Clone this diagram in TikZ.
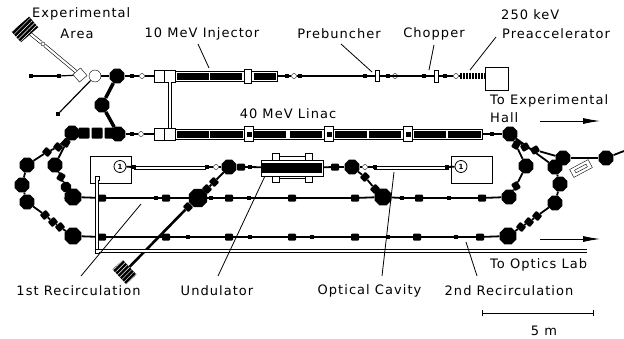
\documentclass[tikz,border=0pt]{standalone}
\usepackage{fontspec}
\setmainfont[LetterSpace=8]{DejaVu Sans}
\usetikzlibrary{shapes.geometric,arrows.meta,patterns.meta}
\begin{document}
\begin{tikzpicture}[x=1pt,y=-1pt,
    dipole/.style={regular polygon,regular polygon sides=8,fill=black,inner sep=0pt,minimum size=16pt},
    bigdipole/.style={dipole,minimum size=20pt},
    quad/.style={rectangle,rounded corners=1pt,fill=black,inner sep=0pt,minimum width=8pt,minimum height=7pt},
    lens/.style={rectangle,fill=black,inner sep=0pt,minimum width=4pt,minimum height=3.5pt},
    ring/.style={circle,draw,fill=white,inner sep=0pt,minimum size=5pt},
    whitebox/.style={rectangle,draw,fill=white,inner sep=0pt},
    blackbar/.style={rectangle,fill=black,inner sep=0pt,minimum height=7pt},
    hatchbox/.style={rectangle,preaction={fill=black},pattern={Lines[angle=45,distance=3.2pt,line width=0.5pt]},pattern color=white,inner sep=0pt},
    hall/.style={rectangle,draw,thick,inner sep=0pt,minimum width=41pt,minimum height=27pt},
    pump/.style={circle,draw,thick,fill=white,inner sep=0pt,minimum size=12pt}]

\useasboundingbox (0,0) rectangle (624,338);

\begin{scope}[every node/.style={whitebox}]

    \node[minimum width=103pt,minimum height=10pt] (inj) at (226,76) {};
    \node[minimum width=308pt,minimum height=10pt] (linac) at (328.5,134) {};
    \node[minimum width=11pt,minimum height=12pt] (injA) at (160,76) {};
    \node[minimum width=11pt,minimum height=12pt] (injB) at (170,76) {};
    \node[minimum width=11pt,minimum height=12pt] (linA) at (160,134) {};
    \node[minimum width=11pt,minimum height=12pt] (linB) at (170,134) {};
    \node[minimum width=23pt,minimum height=23pt] (src) at (496.5,78.5) {};
    \node[minimum width=7pt,minimum height=14pt] (injR) at (248,76) {};
    \node[minimum width=9pt,minimum height=15pt] (linR1) at (249,134) {};
    \node[minimum width=9pt,minimum height=15pt] (linR2) at (329,134) {};
    \node[minimum width=9pt,minimum height=15pt] (linR3) at (408,134) {};
    \node[minimum width=4pt,minimum height=11pt] (preb) at (377,76) {};
    \node[minimum width=4pt,minimum height=12pt] (chop) at (436,76) {};
    \node[minimum width=10pt,minimum height=10pt,rotate=40] (expB) at (80,75) {};
    \node[circle,minimum size=12pt] (expC) at (95,76) {};
    \node[minimum width=21pt,minimum height=9pt,rotate=28] (ext) at (581,168.5) {};
    \node[minimum width=13pt,minimum height=3pt,rotate=28] (extI) at (581,168.5) {};
    \node[minimum size=3.5pt] (capA) at (97,178) {};
    \node[minimum size=3.5pt] (capB) at (97,251) {};
    \node[minimum width=71pt,minimum height=3pt,line width=0.7pt] (cavA) at (170,167.5) {};
    \node[minimum width=74pt,minimum height=3pt,line width=0.7pt] (cavB) at (411,167.5) {};

\end{scope}

\begin{scope}[every node/.style={blackbar}]

    \node[minimum width=32.5pt] at (193,76) {};
    \node[minimum width=32pt] at (226,76) {};
    \node[minimum width=22pt] at (265,76) {};
    \node[minimum width=31.5pt] at (193,134) {};
    \node[minimum width=33pt] at (226.5,134) {};
    \node[minimum width=31.5pt] at (270,134) {};
    \node[minimum width=32pt] at (305.5,134) {};
    \node[minimum width=32pt] at (351,134) {};
    \node[minimum width=32pt] at (384.5,134) {};
    \node[minimum width=32pt] at (430,134) {};
    \node[minimum width=33pt] at (464,134) {};
    \node[minimum width=5pt,minimum height=5pt] at (249,134) {};
    \node[minimum width=5pt,minimum height=5pt] at (329,134) {};
    \node[minimum width=5pt,minimum height=5pt] at (408,134) {};
    \node[rectangle,preaction={fill=black},pattern={Lines[angle=90,distance=3pt,line width=0.5pt]},pattern color=white,minimum width=26pt,minimum height=6pt] (acc) at (472,76) {};

\end{scope}

\begin{scope}

    \node[hatchbox,minimum width=23pt,minimum height=14pt,rotate=41] (dumpA) at (25,29.5) {};
    \node[hatchbox,minimum width=20pt,minimum height=14pt,rotate=-47] (dumpB) at (124.5,272) {};

    \node[hall] (hallA) at (110.5,169.5) {};
    \node[hall] (hallB) at (471.5,169.5) {};
    \node[pump] (pumpA) at (120,166.5) {\scriptsize\bfseries 1};
    \node[pump] (pumpB) at (461,166.5) {\scriptsize\bfseries 1};

    \node[whitebox,minimum width=7pt,minimum height=7pt] (undA) at (275.5,156.5) {};
    \node[whitebox,minimum width=7pt,minimum height=7pt] (undB) at (308.5,156.5) {};
    \node[whitebox,minimum width=7pt,minimum height=7pt] (undC) at (275.5,179) {};
    \node[whitebox,minimum width=7pt,minimum height=7pt] (undD) at (308.5,179) {};
    \node[whitebox,minimum width=26pt,minimum height=4pt] (undE) at (292,158.5) {};
    \node[whitebox,minimum width=26pt,minimum height=4pt] (undF) at (292,176.5) {};
    \node[whitebox,minimum width=62pt,minimum height=16pt] (und) at (292,168) {};
    \node[blackbar,minimum width=60pt,minimum height=10pt] at (292,168) {};

\end{scope}

\begin{scope}[every node/.style={dipole}]

    \node (a1) at (117,76) {};
    \node (a2) at (102,105) {};
    \node (a3) at (118,134) {};
    \node[quad,minimum size=11pt] (a4) at (110,133) {};
    \node[quad,minimum size=11pt] (a5) at (97,133) {};
    \node[quad,minimum size=11pt] (a6) at (84,133) {};
    \node (a7) at (72,133) {};
    \node (b1) at (510,134) {};
    \node (b2) at (526,166) {};
    \node (b3) at (509,197) {};
    \node[bigdipole,minimum size=18pt] (b4) at (383,197) {};
    \node[bigdipole] (b5) at (198,198) {};
    \node[minimum size=18pt] (b6) at (73,197) {};
    \node[minimum size=11pt] (b7) at (66,187) {};
    \node (b8) at (55,165) {};
    \node (c1) at (27,165) {};
    \node (c2) at (22,185) {};
    \node (c3) at (27,202) {};
    \node[bigdipole,minimum size=18pt] (c4) at (73,236) {};
    \node[bigdipole,minimum size=18pt] (c5) at (508,236) {};
    \node (c6) at (555,203) {};
    \node (c7) at (560,184) {};
    \node (c8) at (555,167) {};
    \node (c9) at (563,158) {};
    \node (c10) at (606,158) {};
    \node (m1) at (229,167) {};
    \node (m2) at (352,167) {};

\end{scope}

\begin{scope}[every node/.style={quad}]

    \node (q1) at (102,198) {};
    \node (q2) at (166,198) {};
    \node (q3) at (229,198) {};
    \node (q4) at (292,198) {};
    \node (q5) at (355,198) {};
    \node (q6) at (419,198) {};
    \node (q7) at (482,198) {};
    \node (r1) at (102,237) {};
    \node (r2) at (166,237) {};
    \node (r3) at (229,237) {};
    \node (r4) at (292,237) {};
    \node (r5) at (355,237) {};
    \node (r6) at (417,237) {};
    \node (r7) at (480,237) {};
    \node[rotate=40] (s1) at (45,215) {};
    \node[rotate=40] (s2) at (53,222) {};
    \node[rotate=40] (s3) at (60,227) {};
    \node[rotate=-40] (s4) at (521,227) {};
    \node[rotate=-40] (s5) at (529,222) {};
    \node[rotate=-40] (s6) at (537,216) {};
    \node[rotate=-45] (t1) at (188,207) {};
    \node[rotate=-45] (t2) at (207,189) {};
    \node[rotate=-45] (t3) at (214,182) {};
    \node[rotate=45] (t4) at (365,177) {};
    \node[rotate=45] (t5) at (375,189) {};
    \node[rotate=60] (u1) at (516,145) {};
    \node[rotate=-60] (u2) at (516,186) {};
    \node[rotate=30] (u3) at (525,147) {};
    \node[rotate=30] (u4) at (535,150) {};
    \node[ring,minimum size=4pt] (v1) at (43,44) {};
    \node[rotate=-40] (v2) at (47,152) {};
    \node[rotate=-40] (v3) at (58,147) {};
    \node[rotate=60] (v4) at (66,143) {};
    \node[rotate=60] (v5) at (61,177) {};
    \node (w1) at (241,167) {};
    \node (w2) at (335,167) {};

\end{scope}

\begin{scope}[every node/.style={lens}]

    \node (e1) at (31,76) {};
    \node (e2) at (59,76) {};
    \node (e3) at (58,114) {};
    \node (e4) at (132,76) {};
    \node (e5) at (287,76) {};
    \node (e6) at (300,76) {};
    \node (e7) at (365,76) {};
    \node (e8) at (388,76) {};
    \node (e9) at (424,76) {};
    \node (e10) at (445,76) {};
    \node (e11) at (132,134) {};
    \node (e12) at (492,134) {};
    \node (e13) at (207,167) {};
    \node (e14) at (250,167) {};
    \node (e15) at (375,167) {};
    \node (e16) at (134,167) {};
    \node (e17) at (447,167) {};
    \node (f1) at (211,198) {};
    \node (f2) at (156,198) {};
    \node (f3) at (249,198) {};
    \node (f4) at (402,198) {};
    \node (f5) at (449,198) {};
    \node (f6) at (188,237) {};
    \node (f7) at (250,237) {};
    \node (f8) at (312,237) {};
    \node (f9) at (388,237) {};
    \node (f10) at (456,237) {};

\end{scope}

\begin{scope}[every node/.style={ring}]

    \node (o1) at (142,76) {};
    \node (o2) at (294,76) {};
    \node (o3) at (395,76) {};
    \node (o4) at (456,76) {};
    \node (o5) at (141,134) {};
    \node (o6) at (216,167) {};
    \node (o7) at (365,167) {};

\end{scope}

\begin{scope}

    \coordinate (x3) at (587,251);
    \coordinate (x4) at (624,151);
    \coordinate (x5) at (64,198);

    \coordinate (p1) at (198,44);
    \coordinate (p2) at (209,68);
    \coordinate (p3) at (341,44);
    \coordinate (p4) at (372,72);
    \coordinate (p5) at (434,45);
    \coordinate (p6) at (429,70);
    \coordinate (p7) at (496,37);
    \coordinate (p8) at (470,70);
    \coordinate (p9) at (141,204);
    \coordinate (p10) at (81,276);
    \coordinate (p11) at (265,176);
    \coordinate (p12) at (218,276);
    \coordinate (p13) at (394,172);
    \coordinate (p14) at (382,276);
    \coordinate (p15) at (466,242);
    \coordinate (p16) at (477,276);

    \coordinate (g1) at (540,121);
    \coordinate (g2) at (600,121);
    \coordinate (g3) at (540,239);
    \coordinate (g4) at (600,239);
    \coordinate (g5) at (482,313);
    \coordinate (g6) at (594,313);

\end{scope}

\begin{scope}[every edge/.style={draw=black,very thick}]

    \path (e1) edge (e2);
    \path (e2) edge (expB);
    \path (expC) edge (a1);
    \path (a1) edge (e4);
    \path (e4) edge (o1);
    \path (o1) edge (injA);
    \path (inj) edge (e5);
    \path (e5) edge (o2);
    \path (o2) edge (e6);
    \path (e6) edge (e7);
    \path (e7) edge (preb);
    \path (preb) edge (o3);
    \path (o3) edge (e8);
    \path (e8) edge (e9);
    \path (e9) edge (chop);
    \path (chop) edge (e10);
    \path (e10) edge (o4);
    \path (o4) edge (acc);
    \path (a3) edge (e11);
    \path (e11) edge (o5);
    \path (o5) edge (linA);
    \path (linac) edge (e12);
    \path (e12) edge (b1);
    \path (expC) edge (e3);

\end{scope}

\begin{scope}[every edge/.style={draw=black,line width=1.8pt}]

    \path (a7) edge (v3);
    \path (v3) edge (v2);
    \path (v2) edge (c1);
    \path (a7) edge (v4);
    \path (v4) edge (b8);
    \path (b8) edge (v5);
    \path (v5) edge (b7);
    \path (b7) edge (b6);
    \path (c1) edge (c2);
    \path (c2) edge (c3);
    \path (c3) edge (s1);
    \path (s1) edge (s2);
    \path (s2) edge (s3);
    \path (s3) edge (c4);

    \path (x5) edge (b6);
    \path (b6) edge (q1);
    \path (q1) edge (f2);
    \path (f2) edge (q2);
    \path (q2) edge (b5);
    \path (b5) edge (f1);
    \path (f1) edge (q3);
    \path (q3) edge (f3);
    \path (f3) edge (q4);
    \path (q4) edge (q5);
    \path (q5) edge (b4);
    \path (b4) edge (f4);
    \path (f4) edge (q6);
    \path (q6) edge (f5);
    \path (f5) edge (q7);
    \path (q7) edge (b3);
    \path (c4) edge (r1);
    \path (r1) edge (r2);
    \path (r2) edge (f6);
    \path (f6) edge (r3);
    \path (r3) edge (f7);
    \path (f7) edge (r4);
    \path (r4) edge (f8);
    \path (f8) edge (r5);
    \path (r5) edge (f9);
    \path (f9) edge (r6);
    \path (r6) edge (f10);
    \path (f10) edge (r7);
    \path (r7) edge (c5);

    \path (b1) edge (u1);
    \path (u1) edge (b2);
    \path (b2) edge (u2);
    \path (u2) edge (b3);
    \path (b1) edge (u3);
    \path (u3) edge (u4);
    \path (u4) edge (c9);
    \path (b1) edge (c8);
    \path (c9) edge (c8);
    \path (c8) edge (c7);
    \path (c7) edge (c6);
    \path (c6) edge (s6);
    \path (s6) edge (s5);
    \path (s5) edge (s4);
    \path (s4) edge (c5);
    \path (c9) edge (c10);
    \path (c10) edge (x4);

    \path (t1) edge (b5);
    \path (b5) edge (t2);
    \path (t2) edge (t3);
    \path (t3) edge (m1);
    \path (m1) edge (o6);
    \path (o6) edge (e13);
    \path (m1) edge (w1);
    \path (w1) edge (e14);
    \path (e14) edge (und);
    \path (und) edge (w2);
    \path (w2) edge (m2);
    \path (m2) edge (o7);
    \path (o7) edge (e15);
    \path (m2) edge (t4);
    \path (t4) edge (t5);
    \path (t5) edge (b4);
    \path (pumpA) edge (e16);
    \path (pumpB) edge (e17);

\end{scope}

\begin{scope}[every edge/.style={draw=black,line width=3.5pt}]

    \path (a1) edge (a2);
    \path (a2) edge (a3);

\end{scope}

\begin{scope}[every edge/.style={draw=black,line width=2.6pt}]

    \path (dumpB) edge (t1);

\end{scope}

\begin{scope}[every edge/.style={draw=black,line width=0.6pt,double=white,double distance=2.2pt}]

    \path (dumpA) edge (v1);
    \path (v1) edge (expB);
    \path (injB) edge (linB);
    \path (capA) edge (capB);
    \path (capB) edge (x3);

\end{scope}

\begin{scope}[every edge/.style={draw=black,thick}]

    \path (p1) edge (p2);
    \path (p3) edge (p4);
    \path (p5) edge (p6);
    \path (p7) edge (p8);
    \path (p9) edge (p10);
    \path (p11) edge (p12);
    \path (p13) edge (p14);
    \path (p15) edge (p16);
    \path[|-|] (g5) edge (g6);
    \path[-{Latex[length=17pt,width=6pt]}] (g1) edge (g2);
    \path[-{Latex[length=17pt,width=6pt]}] (g3) edge (g4);

\end{scope}

\begin{scope}[every node/.style={inner sep=0pt,font=\fontsize{13}{15}\selectfont}]

    \node[anchor=west] (tExpA) at (32,14) {Experimental};
    \node (tExpB) at (77,34) {Area};
    \node (tInj) at (202,34) {10 MeV Injector};
    \node (tPreb) at (339,34) {Prebuncher};
    \node (tChop) at (434,34) {Chopper};
    \node[anchor=west] (tPreA) at (501,15) {250 keV};
    \node[anchor=west] (tPreB) at (502,34) {Preaccelerator};
    \node (tLin) at (288,114) {40 MeV Linac};
    \node[anchor=west] (tHallA) at (490,101) {To Experimental};
    \node[anchor=west] (tHallB) at (490,118) {Hall};
    \node[anchor=west] (tOpt) at (490,265) {To Optics Lab};
    \node (tRecA) at (78.5,291) {1st Recirculation};
    \node (tUnd) at (217,291) {Undulator};
    \node (tCav) at (369.5,291) {Optical Cavity};
    \node (tRecB) at (509,291) {2nd Recirculation};
    \node (tFive) at (544,331) {5 m};

\end{scope}

\end{tikzpicture}
\end{document}
